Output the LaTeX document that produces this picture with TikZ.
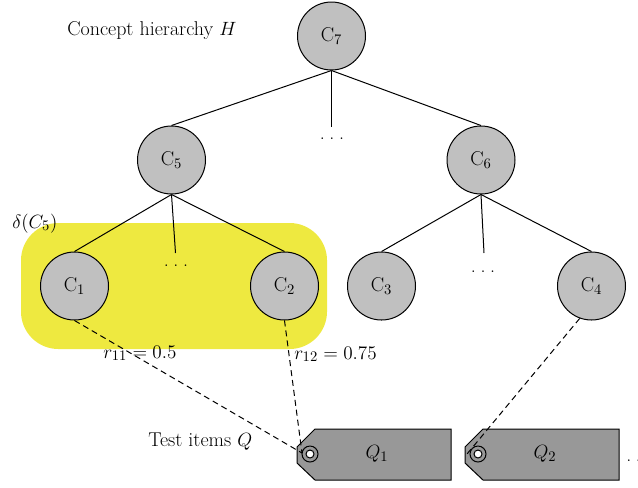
\documentclass[tikz,border=0pt]{standalone}
\usepackage{fontspec}
\definecolor{cgray}{RGB}{192,192,192}
\definecolor{tgray}{RGB}{152,152,152}
\definecolor{hl}{RGB}{238,233,64}
\newcommand{\spdots}{.\hspace{3.5pt}.\hspace{3.5pt}.}
\begin{document}
\begin{tikzpicture}[x=0.75pt,y=-0.75pt,
  font=\fontsize{15}{18}\selectfont,
  concept/.style={circle,draw,fill=cgray,minimum size=51pt,inner sep=0pt,line width=0.75pt},
  edge/.style={line width=0.75pt},
  link/.style={dash pattern=on 4.5pt off 3pt,line width=0.75pt},
  tagshape/.style={draw,fill=tgray,line width=0.75pt},
  lbl/.style={inner sep=0pt}]
\useasboundingbox (0,0) rectangle (638,487);
% highlight
\fill[hl,rounded corners=28pt] (21,223) rectangle (327,349);
% concepts
\node[concept] (C7) at (331.5,36) {$\mathrm{C}_7$};
\node[concept] (C5) at (171.5,160) {$\mathrm{C}_5$};
\node[concept] (C6) at (481,160) {$\mathrm{C}_6$};
\node[concept] (C1) at (74.5,286) {$\mathrm{C}_1$};
\node[concept] (C2) at (284.5,286) {$\mathrm{C}_2$};
\node[concept] (C3) at (381.5,286) {$\mathrm{C}_3$};
\node[concept] (C4) at (591.5,286) {$\mathrm{C}_4$};
% middle stubs and dots
\coordinate (m7) at (331.5,127);
\coordinate (m5) at (175.5,253);
\coordinate (m6) at (484,253);
\node[lbl,anchor=base] (d7) at (332,139) {\spdots};
\node[lbl,anchor=base] (d5) at (176,266) {\spdots};
\node[lbl,anchor=base] (d6) at (483,272) {\spdots};
% tree edges
\draw[edge] (C7.south) -- (C5.north);
\draw[edge] (C7.south) -- (C6.north);
\draw[edge] (C7.south) -- (m7);
\draw[edge] (C5.south) -- (C1.north);
\draw[edge] (C5.south) -- (C2.north);
\draw[edge] (C5.south) -- (m5);
\draw[edge] (C6.south) -- (C3.north);
\draw[edge] (C6.south) -- (C4.north);
\draw[edge] (C6.south) -- (m6);
% texts
\node[lbl,anchor=base west] (title) at (67,35) {Concept hierarchy $H$};
\node[lbl,anchor=base west] (delta) at (12,228) {$\delta(C_5)$};
\node[lbl,anchor=base] (r11) at (140,358) {$r_{11}=0.5$};
\node[lbl,anchor=base west] (r12) at (294,359) {$r_{12}=0.75$};
\node[lbl,anchor=base west] (test) at (148,446) {Test items $Q$};
% tags
\path[tagshape] (297,447) -- (315,429) -- (451,429) -- (451,480) -- (315,480) -- (297,463) -- cycle;
\path[tagshape] (465,447) -- (483,429) -- (619,429) -- (619,480) -- (483,480) -- (465,463) -- cycle;
\draw[edge] (310,454) circle[radius=6pt];
\draw[edge,fill=white] (310,454) circle[radius=3pt];
\draw[edge] (478,454) circle[radius=6pt];
\draw[edge,fill=white] (478,454) circle[radius=3pt];
\node[lbl] (Q1) at (377,454) {$Q_1$};
\node[lbl] (Q2) at (545,454) {$Q_2$};
\node[lbl,anchor=base west] (qd) at (626,461) {\spdots};
\coordinate (pin1) at (302,453);
\coordinate (pin2) at (467,454);
% links
\draw[link] (C1.south) -- (pin1);
\draw[link] (C2.south) -- (pin1);
\draw[link] (C4.-110) -- (pin2);
\end{tikzpicture}
\end{document}
